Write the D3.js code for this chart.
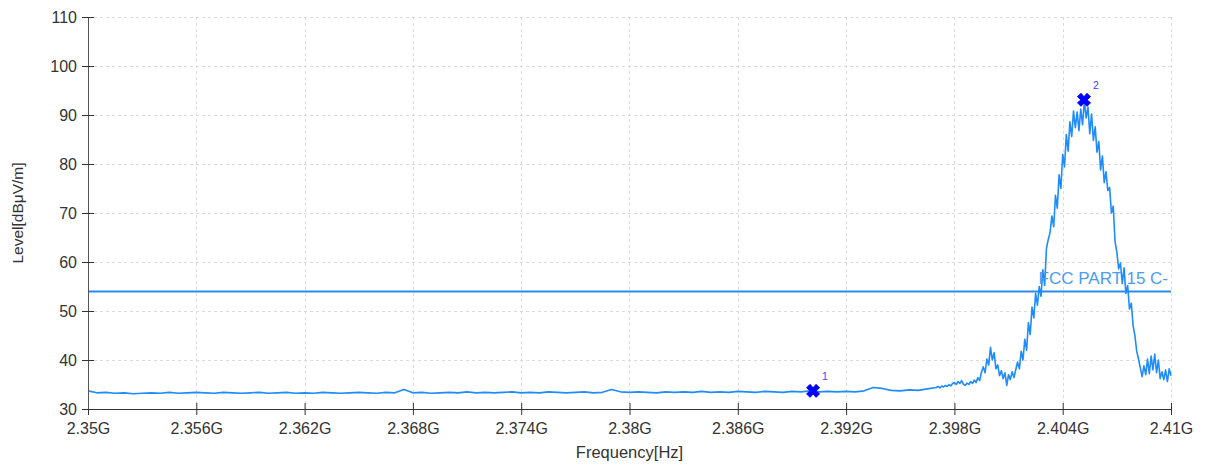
<!DOCTYPE html>
<html>
<head>
<meta charset="utf-8">
<script src="https://cdn.jsdelivr.net/npm/d3@7"></script>
<style>
  body { margin: 0; background: #fff; }
  text { font-family: "Liberation Sans", Arial, sans-serif; }
</style>
</head>
<body>
<div id="chart"></div>
<script>
// x tick values (GHz) and their labels
const xTicks = [2.35, 2.356, 2.362, 2.368, 2.374, 2.38, 2.386, 2.392, 2.398, 2.404, 2.41];
const xTickLabels = ["2.35G", "2.356G", "2.362G", "2.368G", "2.374G", "2.38G", "2.386G", "2.392G", "2.398G", "2.404G", "2.41G"];
const yTicks = [30, 40, 50, 60, 70, 80, 90, 100, 110];

// noise floor, 2.3500 .. 2.3965 GHz every 0.5 MHz
const flatStart = 2.35;
const flatStep = 0.0005;
const flatLevels = [
    33.7, 33.3, 33.4, 33.2, 33.3, 33.1, 33.2, 33.3, 33.2, 33.4,
    33.2, 33.3, 33.4, 33.3, 33.2, 33.4, 33.3, 33.2, 33.3, 33.4,
    33.2, 33.3, 33.4, 33.2, 33.3, 33.2, 33.4, 33.3, 33.2, 33.3,
    33.4, 33.3, 33.2, 33.4, 33.3, 34.0, 33.3, 33.4, 33.2, 33.3,
    33.4, 33.3, 33.5, 33.3, 33.4, 33.3, 33.4, 33.5, 33.3, 33.4,
    33.3, 33.5, 33.4, 33.3, 33.4, 33.5, 33.3, 33.4, 34.0, 33.5,
    33.4, 33.5, 33.4, 33.3, 33.5, 33.4, 33.5, 33.4, 33.6, 33.4,
    33.5, 33.4, 33.6, 33.5, 33.4, 33.6, 33.5, 33.4, 33.6, 33.5,
    33.7, 33.5, 33.6, 33.5, 33.6, 33.5, 33.7, 34.4, 34.2, 33.8,
    33.7, 33.9, 33.8, 34.1
];

// emission region, 2.3970 .. 2.4100 GHz every 0.1 MHz
const peakStart = 2.397;
const peakStep = 0.0001;
const peakLevels = [
    34.4, 34.6, 34.3, 34.7, 34.5, 34.8, 34.6, 35.0, 34.7, 35.2,
    35.4, 35.0, 35.6, 35.2, 35.8, 35.1, 34.8, 35.3, 35.0, 35.6,
    35.2, 35.9, 35.4, 36.4, 35.8, 37.5, 38.6, 37.4, 40.2, 39.0,
    42.6, 40.0, 41.5, 38.2, 39.0, 36.8, 37.8, 36.2, 37.4, 34.8,
    37.0, 36.0, 37.6, 36.4, 38.0, 39.6, 38.2, 41.8, 40.0, 44.2,
    42.0, 47.6, 45.2, 50.8, 48.6, 53.6, 51.2, 55.0, 53.0, 58.4,
    55.2, 62.8, 64.6, 66.0, 69.4, 67.2, 73.6, 71.0, 77.8, 75.0,
    82.0, 79.4, 86.0, 82.6, 88.6, 85.6, 90.8, 87.4, 90.6, 86.8,
    91.2, 88.0, 93.0, 89.4, 91.6, 86.2, 90.2, 84.8, 87.6, 82.4,
    84.6, 78.8, 81.6, 76.2, 78.4, 74.6, 75.2, 70.0, 71.4, 64.2,
    62.0, 58.6, 59.8, 55.6, 58.8, 53.6, 55.2, 50.4, 51.6, 47.0,
    45.0, 41.8, 40.2, 38.4, 36.6, 38.8, 37.0, 40.2, 37.2, 40.8,
    38.0, 41.2, 37.4, 40.0, 36.2, 37.6, 36.0, 38.0, 35.6, 38.2,
    36.8
];

const limitLevel = 54;
const limitLabel = "FCC PART 15 C-";

const markerFreq = [2.39017, 2.40518];
const markerLevel = [33.7, 93.1];
const markerLabel = ["1", "2"];

const width = 1205;
const height = 465;
const margin = { top: 17, right: 34, bottom: 56, left: 88 };

// build the trace
let trace = [];
flatLevels.forEach(function (v, i) { trace.push({ f: flatStart + i * flatStep, v: v }); });
peakLevels.forEach(function (v, i) { trace.push({ f: peakStart + i * peakStep, v: v }); });

let svg = d3.select("#chart")
    .append("svg")
    .attr("width", width)
    .attr("height", height);

let x = d3.scaleLinear()
    .domain([2.35, 2.41])
    .range([margin.left, width - margin.right]);

let y = d3.scaleLinear()
    .domain([30, 110])
    .range([height - margin.bottom, margin.top]);

// grid
let grid = svg.append("g")
    .attr("stroke", "#dcdcdc")
    .attr("stroke-dasharray", "3,3")
    .attr("stroke-width", 1);

grid.selectAll(".gx")
    .data(xTicks.slice(1))
    .enter()
    .append("line")
    .attr("x1", function (d) { return Math.round(x(d)) + 0.5; })
    .attr("x2", function (d) { return Math.round(x(d)) + 0.5; })
    .attr("y1", y(110))
    .attr("y2", y(30));

grid.selectAll(".gy")
    .data(yTicks.slice(1))
    .enter()
    .append("line")
    .attr("x1", x(2.35))
    .attr("x2", x(2.41))
    .attr("y1", function (d) { return Math.round(y(d)) + 0.5; })
    .attr("y2", function (d) { return Math.round(y(d)) + 0.5; });

// limit line
svg.append("line")
    .attr("x1", x(2.35))
    .attr("x2", x(2.41))
    .attr("y1", y(limitLevel))
    .attr("y2", y(limitLevel))
    .attr("stroke", "#2a8be8")
    .attr("stroke-width", 2);

// trace
let line = d3.line()
    .x(function (d) { return x(d.f); })
    .y(function (d) { return y(d.v); });

svg.append("path")
    .datum(trace)
    .attr("d", line)
    .attr("fill", "none")
    .attr("stroke", "#1e8cfa")
    .attr("stroke-width", 1.6)
    .attr("stroke-linejoin", "round");

svg.append("text")
    .attr("x", x(2.41) - 3)
    .attr("y", y(limitLevel) - 7)
    .attr("text-anchor", "end")
    .attr("font-size", "17px")
    .attr("fill", "#4a9df0")
    .text(limitLabel);

// axes
let xAxis = d3.axisBottom(x)
    .tickValues(xTicks)
    .tickFormat(function (d, i) { return xTickLabels[i]; })
    .tickSizeInner(6)
    .tickSizeOuter(0)
    .tickPadding(8);

let gx = svg.append("g")
    .attr("transform", "translate(0," + y(30) + ")")
    .call(xAxis);
gx.select(".domain").attr("stroke", "#333");
gx.selectAll(".tick line").attr("stroke", "#333").attr("y1", -6);
gx.selectAll(".tick text").attr("font-size", "16px").attr("fill", "#333").attr("font-family", "Liberation Sans, Arial, sans-serif");

let yAxis = d3.axisLeft(y)
    .tickValues(yTicks)
    .tickSizeInner(6)
    .tickSizeOuter(0)
    .tickPadding(5);

let gy = svg.append("g")
    .attr("transform", "translate(" + x(2.35) + ",0)")
    .call(yAxis);
gy.select(".domain").attr("stroke", "#555");
gy.selectAll(".tick line").attr("stroke", "#333").attr("x1", 6);
gy.selectAll(".tick text").attr("font-size", "16px").attr("fill", "#333").attr("font-family", "Liberation Sans, Arial, sans-serif");

// axis titles
svg.append("text")
    .attr("x", (x(2.35) + x(2.41)) / 2)
    .attr("y", 458)
    .attr("text-anchor", "middle")
    .attr("font-size", "16.5px")
    .attr("fill", "#333")
    .text("Frequency[Hz]");

svg.append("text")
    .attr("transform", "translate(23," + ((y(30) + y(110)) / 2) + ") rotate(-90)")
    .attr("text-anchor", "middle")
    .attr("font-size", "15.5px")
    .attr("fill", "#333")
    .text("Level[dBμV/m]");

// markers
let cross = "M-6.5,-3 L-3,-6.5 L0,-3 L3,-6.5 L6.5,-3 L3,0 L6.5,3 L3,6.5 L0,3 L-3,6.5 L-6.5,3 L-3,0 Z";
let markers = markerFreq.map(function (f, i) { return { f: f, v: markerLevel[i], label: markerLabel[i] }; });

svg.append("g")
    .selectAll("path")
    .data(markers)
    .enter()
    .append("path")
    .attr("d", cross)
    .attr("transform", function (d) { return "translate(" + x(d.f) + "," + y(d.v) + ")"; })
    .attr("fill", "#0000ff")
    .attr("stroke", "#0000ff")
    .attr("stroke-width", 1)
    .attr("stroke-linejoin", "round");

svg.append("g")
    .selectAll("text")
    .data(markers)
    .enter()
    .append("text")
    .attr("x", function (d) { return x(d.f) + 9; })
    .attr("y", function (d) { return y(d.v) - 11; })
    .attr("font-size", "10.5px")
    .attr("fill", "#3f3fff")
    .text(function (d) { return d.label; });
</script>
</body>
</html>
